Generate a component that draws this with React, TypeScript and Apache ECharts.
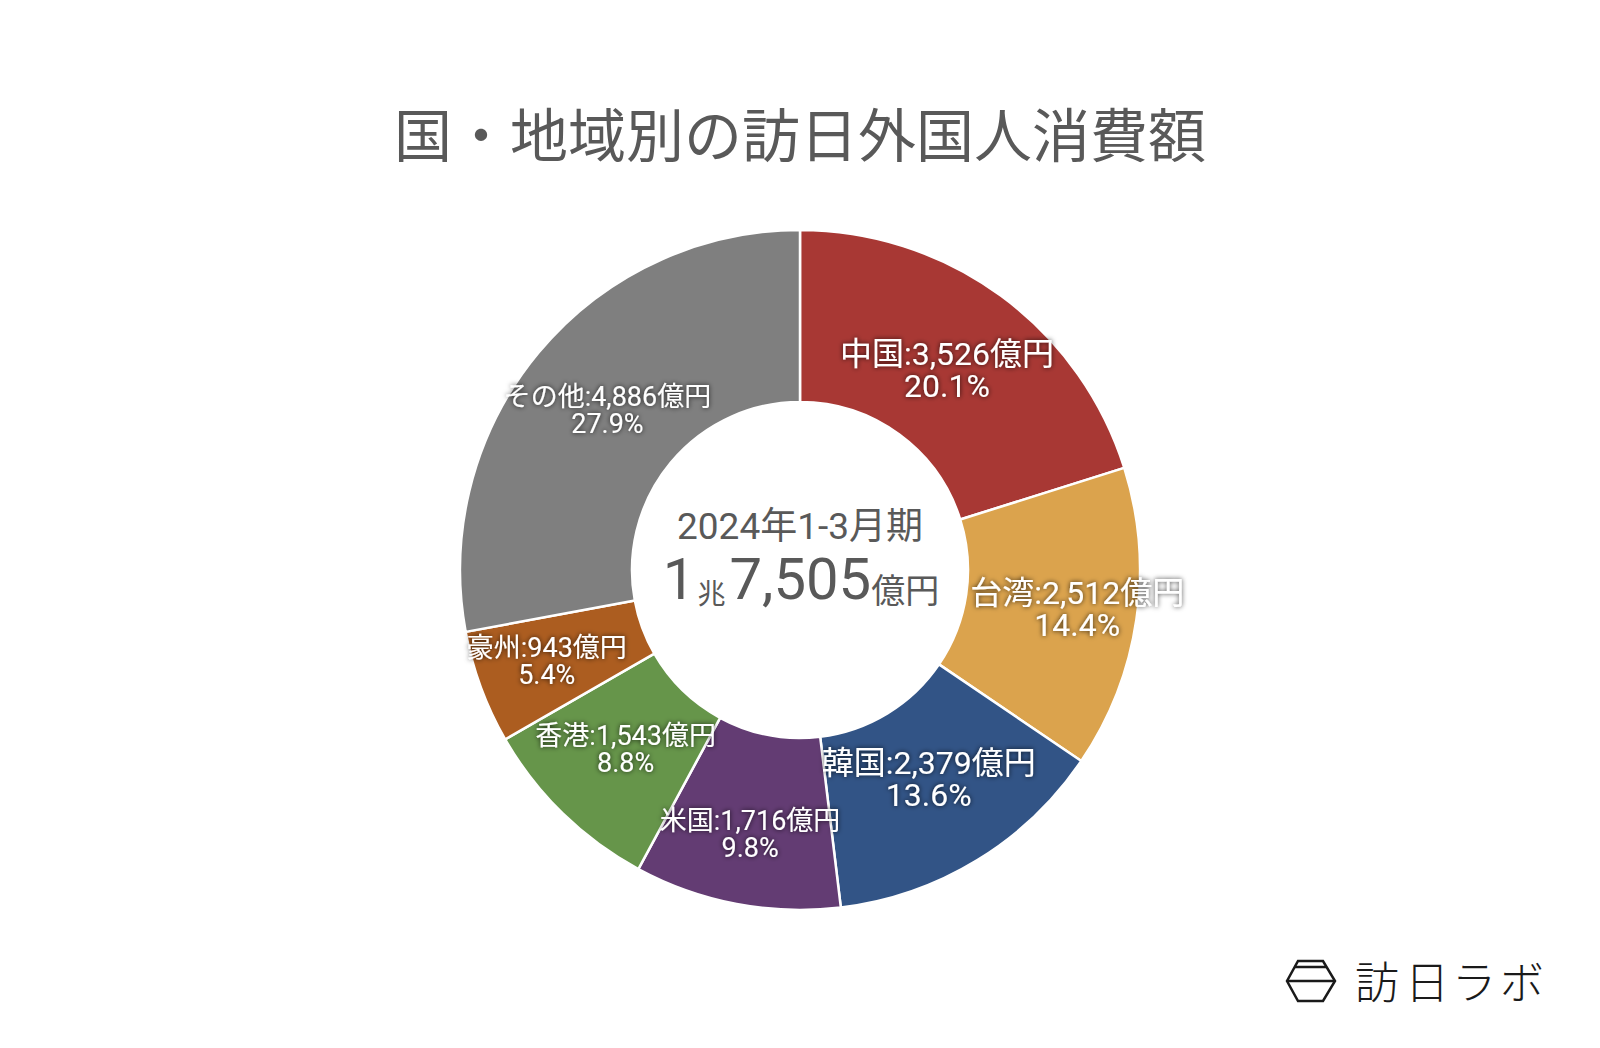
import React, { useEffect, useRef } from "react";
import * as echarts from "echarts";

const title = "国・地域別の訪日外国人消費額";
const periodLabel = "2024年1-3月期";
const totalParts = ["1", "兆", "7,505", "億円"];
const categories = ["中国", "台湾", "韓国", "米国", "香港", "豪州", "その他"];
const values = [3526, 2512, 2379, 1716, 1543, 943, 4886];
const percents = ["20.1%", "14.4%", "13.6%", "9.8%", "8.8%", "5.4%", "27.9%"];
const colors = ["#A83834", "#DBA34D", "#325486", "#633C73", "#66954A", "#AC5D20", "#7F7F7F"];
const labelSizes = [32, 32, 32, 27, 27, 27, 27];
const labelOffsets = [[-5, 7], [23, 2], [-5, -10], [-2, 12], [5, -5], [-12, 3], [5, 5]];
const logoChars = ["訪", "日", "ラ", "ボ"];
const logoCharX = [1377, 1427, 1474, 1522];

const FONT = 'Roboto, "Noto Sans CJK JP", sans-serif';

export default function App() {
  const ref = useRef<HTMLDivElement>(null);
  useEffect(() => {
    document.body.style.margin = "0";
    const chart = echarts.init(ref.current!, null, { renderer: "svg" });
    const data = categories.map((name, i) => ({
      name,
      value: values[i],
      itemStyle: { color: colors[i] },
      label: { fontSize: labelSizes[i], lineHeight: labelSizes[i], offset: labelOffsets[i] },
    }));
    chart.setOption({
      animation: false,
      backgroundColor: "#ffffff",
      title: {
        text: title,
        left: "center",
        top: 103,
        textStyle: { fontFamily: FONT, fontSize: 58, fontWeight: 400, color: "#595959" },
      },
      series: [
        {
          type: "pie",
          center: [800, 570],
          radius: [168, 340],
          startAngle: 90,
          clockwise: true,
          avoidLabelOverlap: false,
          labelLayout: { hideOverlap: false },
          emphasis: { disabled: true },
          itemStyle: { borderColor: "#ffffff", borderWidth: 2.5 },
          label: {
            show: true,
            position: "inside",
            color: "#ffffff",
            fontFamily: FONT,
            textShadowColor: "rgba(0,0,0,0.8)",
            textShadowBlur: 5,
            formatter: (p: any) =>
              `${p.name}:${Number(p.value).toLocaleString("en-US")}億円\n${percents[p.dataIndex]}`,
          },
          labelLine: { show: false },
          data,
        },
      ],
      graphic: [
        {
          type: "text",
          x: 800,
          y: 526,
          style: {
            text: periodLabel,
            fontFamily: FONT,
            fontSize: 37,
            fill: "#595959",
            align: "center",
            verticalAlign: "middle",
          },
        },
        {
          type: "text",
          x: 801,
          y: 608,
          style: {
            text: `{a|${totalParts[0]}}{b|${totalParts[1]}}{a|${totalParts[2]}}{c|${totalParts[3]}}`,
            align: "center",
            verticalAlign: "bottom",
            rich: {
              a: { fontFamily: FONT, fontSize: 58, lineHeight: 58, fill: "#595959", verticalAlign: "bottom", color: "#595959" },
              b: { fontFamily: FONT, fontSize: 28, lineHeight: 28, fill: "#595959", verticalAlign: "bottom", color: "#595959", padding: [0, 4, 0, 2] },
              c: { fontFamily: FONT, fontSize: 34, lineHeight: 34, fill: "#595959", verticalAlign: "bottom", color: "#595959" },
            },
          },
        },
        {
          type: "polygon",
          shape: {
            points: [
              [1298, 961], [1323, 961], [1335, 981], [1323, 1001], [1298, 1001], [1287, 981],
            ],
          },
          style: { fill: "none", stroke: "#1a1a1a", lineWidth: 2.5 },
        },
        {
          type: "line",
          shape: { x1: 1294.5, y1: 967, x2: 1326.5, y2: 967 },
          style: { stroke: "#1a1a1a", lineWidth: 2.5 },
        },
        {
          type: "line",
          shape: { x1: 1287, y1: 981, x2: 1335, y2: 981 },
          style: { stroke: "#1a1a1a", lineWidth: 2.5 },
        },
        ...logoChars.map((ch, i) => ({
          type: "text",
          x: logoCharX[i],
          y: 980,
          style: {
            text: ch,
            fontFamily: '"Noto Sans CJK JP", sans-serif',
            fontWeight: 300,
            fontSize: 44,
            fill: "#1a1a1a",
            align: "center",
            verticalAlign: "middle",
          },
        })),
      ],
    });
    return () => chart.dispose();
  }, []);
  return <div ref={ref} style={{ width: 1600, height: 1048 }} />;
}
